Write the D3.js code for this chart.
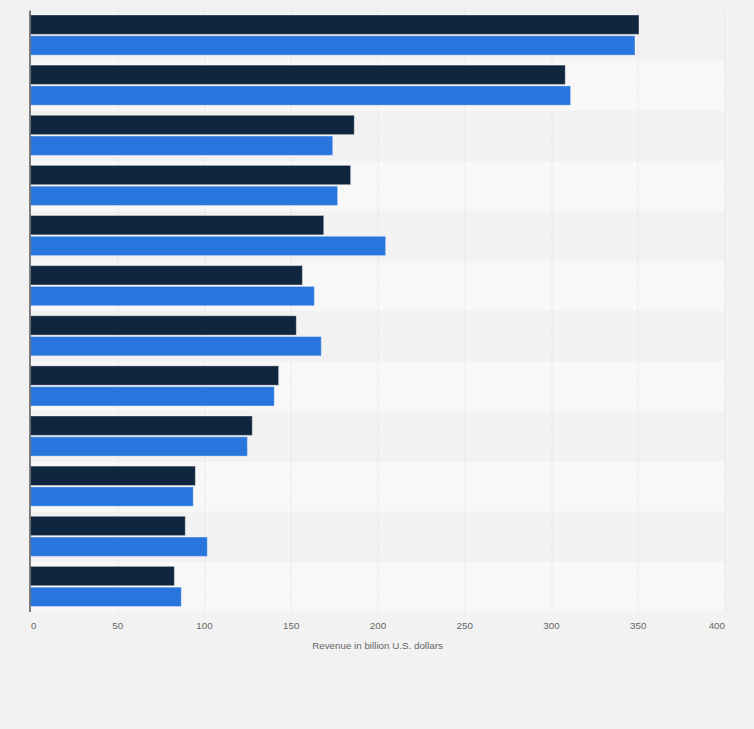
<!DOCTYPE html>
<html>
<head>
<meta charset="utf-8">
<script src="https://cdn.jsdelivr.net/npm/d3@7"></script>
<style>
  html, body { margin: 0; padding: 0; background: #f2f2f2; }
  svg { display: block; font-family: "Liberation Sans", Arial, sans-serif; }
</style>
</head>
<body>
<div class="bar-chart"></div>
<script>
// chart data (category labels are not shown in the picture)
const categories = ['c1', 'c2', 'c3', 'c4', 'c5', 'c6', 'c7', 'c8', 'c9', 'c10', 'c11', 'c12'];
const series_names = ['dark', 'blue'];
const dark_values = [350.7, 308.2, 186.6, 184.5, 169.0, 156.7, 153.2, 143.0, 127.8, 95.0, 89.2, 82.9];
const blue_values = [348.4, 311.3, 174.2, 177.0, 204.7, 163.6, 167.6, 140.5, 125.0, 93.8, 101.9, 86.9];
const x_ticks = [0, 50, 100, 150, 200, 250, 300, 350, 400];
const axis_title = 'Revenue in billion U.S. dollars';
const colors = ['#10263e', '#2876dd'];

const width = 754, height = 729;
const margin = { top: 10.5, right: 29.5, bottom: 117, left: 30.5 };
const graph_w = width - margin.left - margin.right;
const graph_h = height - margin.top - margin.bottom;

const svg = d3.select('.bar-chart').append('svg')
  .attr('width', width)
  .attr('height', height);

svg.append('rect')
  .attr('width', width).attr('height', height)
  .attr('fill', '#f2f2f2');

const graph = svg.append('g')
  .attr('transform', `translate(${margin.left}, ${margin.top})`);

// scales
const x = d3.scaleLinear().domain([0, 400]).range([0, graph_w]);
const y = d3.scaleBand().domain(categories).range([0, graph_h]).paddingInner(0).paddingOuter(0);
const y_inner = d3.scaleBand().domain(series_names)
  .range([y.bandwidth() * 0.09, y.bandwidth() * 0.89])
  .paddingInner(0.07);

// alternating row backgrounds
graph.selectAll('.row-bg')
  .data(categories)
  .enter().append('rect')
  .attr('class', 'row-bg')
  .attr('x', 0)
  .attr('y', d => y(d))
  .attr('width', graph_w)
  .attr('height', y.bandwidth())
  .attr('fill', (d, i) => i % 2 === 0 ? '#f2f2f2' : '#f8f8f8');

// dotted grid lines
graph.selectAll('.grid')
  .data(x_ticks.filter(t => t > 0))
  .enter().append('line')
  .attr('class', 'grid')
  .attr('x1', d => Math.round(x(d)) + 0.5)
  .attr('x2', d => Math.round(x(d)) + 0.5)
  .attr('y1', 0)
  .attr('y2', graph_h)
  .attr('stroke', '#d4d4d4')
  .attr('stroke-dasharray', '1,2');

// bars
const rows = categories.map((c, i) => ({ cat: c, values: [dark_values[i], blue_values[i]] }));
const groups = graph.selectAll('.group')
  .data(rows)
  .enter().append('g')
  .attr('class', 'group')
  .attr('transform', d => `translate(0, ${y(d.cat)})`);

groups.selectAll('rect')
  .data(d => d.values.map((v, j) => ({ key: series_names[j], value: v, j })))
  .enter().append('rect')
  .attr('x', 0)
  .attr('y', d => y_inner(d.key))
  .attr('width', d => x(d.value))
  .attr('height', y_inner.bandwidth())
  .attr('fill', d => colors[d.j])
  .attr('stroke', 'rgba(255,255,255,0.35)')
  .attr('stroke-width', 1);

// left axis line
graph.append('line')
  .attr('x1', -0.5).attr('x2', -0.5)
  .attr('y1', 0).attr('y2', graph_h)
  .attr('stroke', '#555')
  .attr('stroke-width', 1.5);

// x axis
const x_axis = d3.axisBottom(x).tickValues(x_ticks).tickSize(0).tickPadding(10);
const x_axis_group = graph.append('g')
  .attr('class', 'x-axis')
  .attr('transform', `translate(0, ${graph_h})`)
  .call(x_axis);
x_axis_group.select('.domain').remove();
x_axis_group.selectAll('text')
  .attr('fill', '#666')
  .attr('font-size', '9.8px')
  .attr('font-family', '"Liberation Sans", Arial, sans-serif')
  // keep the first and last label inside the plot, like the original
  .attr('text-anchor', (d, i, n) => i === 0 ? 'start' : (i === n.length - 1 ? 'end' : 'middle'))
  .attr('dy', '0.75em');

// axis title
graph.append('text')
  .attr('x', graph_w / 2)
  .attr('y', graph_h + 37)
  .attr('text-anchor', 'middle')
  .attr('fill', '#666')
  .attr('font-size', '9.8px')
  .text(axis_title);
</script>
</body>
</html>
